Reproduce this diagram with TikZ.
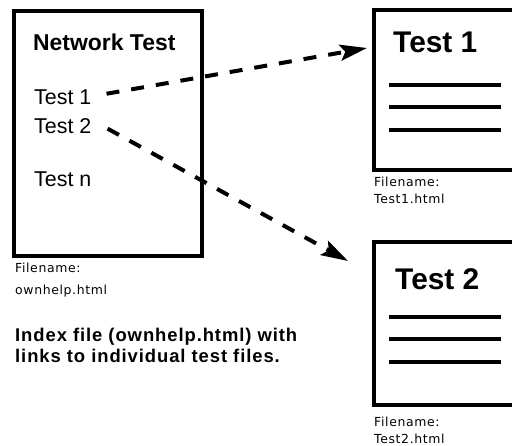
\documentclass[tikz,border=0pt]{standalone}
\usepackage{fontspec}
\setmainfont{Liberation Sans}
\newfontfamily\capfont[LetterSpace=5]{DejaVu Sans}
\newfontfamily\notefont[LetterSpace=5]{Liberation Sans}
\usetikzlibrary{positioning,calc,arrows.meta}
\tikzset{box/.style={draw,line width=4bp,inner sep=0pt,outer sep=0pt,anchor=north west},
	item/.style={anchor=base west,inner sep=0pt,font=\fontsize{21.5}{24}\selectfont},
	head/.style={anchor=base west,inner sep=0pt,font=\bfseries\fontsize{23}{26}\selectfont},
	doctitle/.style={anchor=base west,inner sep=0pt,font=\bfseries\fontsize{30}{33}\selectfont},
	fname/.style={anchor=base west,inner sep=0pt,font=\capfont\fontsize{12.5}{14}\selectfont},
	note/.style={anchor=base west,inner sep=0pt,font=\notefont\bfseries\fontsize{18.5}{21}\selectfont},
	link/.style={line width=4bp,dash pattern=on 13bp off 12bp,-{Stealth[length=27bp,width=16bp,inset=5bp]}},
	rule/.style={line width=4bp}}

\begin{document}
\begin{tikzpicture}[x=1bp,y=-1bp]
	\useasboundingbox (0,0) rectangle (512,446);
	\clip (0,0) rectangle (512,446);
	\node[box,minimum width=188bp,minimum height=245bp] (index) at (14,11) {};
	\node[box,minimum width=160bp,minimum height=160bp] (doc1) at (374,10) {};
	\node[box,minimum width=160bp,minimum height=163bp] (doc2) at (374,242) {};
	\node[head] (net) at (33,51) {Network Test};
	\node[item] (t1) at (34,105) {Test 1};
	\node[item] (t2) at (34,134) {Test 2};
	\node[item] (tn) at (34,187) {Test n};
	\node[fname] (fn0) at (15,272) {Filename:};
	\node[fname] (fl0) at (15,294) {ownhelp.html};
	\node[note] (note1) at (15,341) {Index file (ownhelp.html) with};
	\node[note] (note2) at (15,362) {links to individual test files.};
	\node[doctitle] (h1) at (393,53) {Test 1};
	\node[doctitle] (h2) at (395,289) {Test 2};
	\node[fname] (fn1) at (374,187) {Filename:};
	\node[fname] (fl1) at (374,204) {Test1.html};
	\node[fname] (fn2) at (374,426) {Filename:};
	\node[fname] (fl2) at (374,443) {Test2.html};
	\foreach \d in {doc1,doc2}{
		\foreach \dy in {75,97,120}{
			\draw[rule] ($(\d.north west)+(15,\dy)$) -- +(112,0);
		}
	}
	\draw[link] ($(t1.east)+(15,-4)$) -- ($(doc1.north west)+(-7,38)$);
	\draw[link] ($(t2.east)+(16,2)$) -- ($(doc2.north west)+(-26,19)$);
\end{tikzpicture}
\end{document}
